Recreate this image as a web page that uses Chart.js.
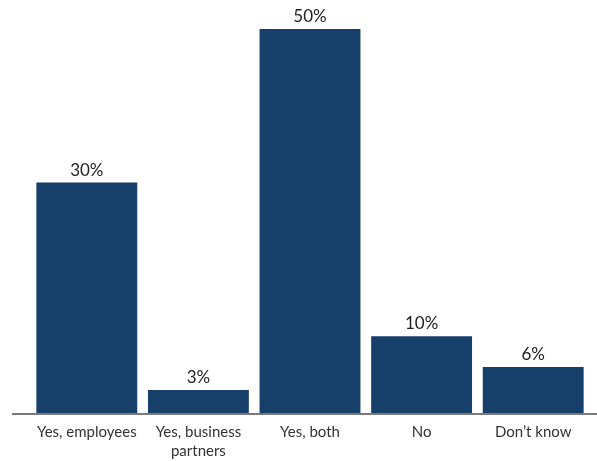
<!DOCTYPE html>
<html>
<head>
<meta charset="utf-8">
<script src="https://cdn.jsdelivr.net/npm/chart.js@4"></script>
<style>
  html, body { margin: 0; padding: 0; background: #fff; }
  #wrap { width: 597px; height: 461px; }
</style>
</head>
<body>
<div id="wrap"><canvas id="c"></canvas></div>
<script>
  // datos
  const categories = [["Yes, employees"], ["Yes, business", "partners"], ["Yes, both"], ["No"], ["Don\u2019t know"]];
  const values = [30, 3, 50, 10, 6];
  const FONT = "Lato, 'Open Sans', sans-serif";

  // etiquetas de valor encima de cada barra
  const valueLabels = {
    id: "valueLabels",
    afterDatasetsDraw(chart) {
      const ctx = chart.ctx;
      const meta = chart.getDatasetMeta(0);
      ctx.save();
      ctx.font = "17px " + FONT;
      ctx.fillStyle = "#222";
      ctx.textAlign = "center";
      ctx.textBaseline = "alphabetic";
      meta.data.forEach((bar, i) => {
        ctx.fillText(values[i] + "%", bar.x, bar.y - 7);
      });
      ctx.restore();
    }
  };

  // linea base gris, mas larga que el area del grafico
  const baseLine = {
    id: "baseLine",
    afterDatasetsDraw(chart) {
      const ctx = chart.ctx;
      const y = chart.scales.y.getPixelForValue(0);
      ctx.save();
      ctx.strokeStyle = "#7a7a7a";
      ctx.lineWidth = 2;
      ctx.beginPath();
      ctx.moveTo(12, y + 1);
      ctx.lineTo(chart.width, y + 1);
      ctx.stroke();
      ctx.restore();
    }
  };

  new Chart(document.getElementById("c"), {
    type: "bar",
    data: {
      labels: categories,
      datasets: [{
        data: values,
        backgroundColor: "#163f69",
        borderWidth: 0,
        categoryPercentage: 1,
        barPercentage: 0.904
      }]
    },
    options: {
      responsive: true,
      maintainAspectRatio: false,
      animation: false,
      layout: { padding: { top: 29, left: 31, right: 8, bottom: 0 } },
      scales: {
        y: { display: false, min: 0, max: 50 },
        x: {
          grid: { display: false, drawTicks: false },
          border: { display: false },
          ticks: {
            color: "#333",
            font: { family: FONT, size: 15, lineHeight: 1.27 },
            padding: 10,
            maxRotation: 0,
            autoSkip: false
          },
          afterFit(scale) { scale.height = 48; }
        }
      },
      plugins: {
        legend: { display: false },
        tooltip: { enabled: false }
      }
    },
    plugins: [valueLabels, baseLine]
  });
</script>
</body>
</html>
